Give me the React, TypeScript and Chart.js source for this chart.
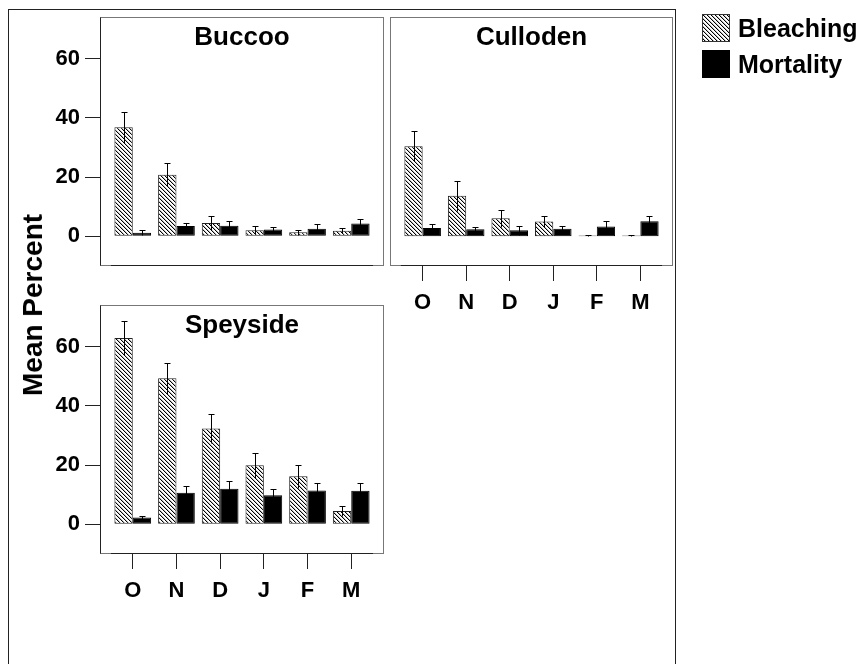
import React, { useEffect, useRef } from 'react';
import { Chart, registerables } from 'chart.js';

Chart.register(...registerables);

// ---------- data ----------
const MONTHS = ['O', 'N', 'D', 'J', 'F', 'M'];
const Y_TICKS = [0, 20, 40, 60];
const SERIES = ['Bleaching', 'Mortality'];
const Y_TITLE = 'Mean Percent';

const BUCCOO_BLEACHING = [36.8, 20.8, 4.5, 2.1, 1.4, 1.9];
const BUCCOO_BLEACHING_ERR = [5.2, 3.8, 2.3, 1.4, 0.9, 0.9];
const BUCCOO_MORTALITY = [1.2, 3.5, 3.6, 2.3, 2.6, 4.3];
const BUCCOO_MORTALITY_ERR = [0.8, 1.1, 1.7, 0.8, 1.6, 1.5];

const CULLODEN_BLEACHING = [30.4, 13.7, 6.1, 5.0, 0.3, 0.3];
const CULLODEN_BLEACHING_ERR = [5.1, 5.1, 2.9, 1.7, 0.2, 0.2];
const CULLODEN_MORTALITY = [2.8, 2.4, 2.1, 2.6, 3.3, 5.1];
const CULLODEN_MORTALITY_ERR = [1.5, 0.9, 1.5, 1.0, 2.0, 1.7];

const SPEYSIDE_BLEACHING = [62.9, 49.3, 32.3, 19.9, 16.2, 4.5];
const SPEYSIDE_BLEACHING_ERR = [5.7, 5.3, 5.0, 4.2, 3.8, 1.7];
const SPEYSIDE_MORTALITY = [2.3, 10.7, 12.0, 9.8, 11.4, 11.3];
const SPEYSIDE_MORTALITY_ERR = [0.6, 2.3, 2.7, 2.1, 2.5, 2.6];

const Y_MIN = -10;
const Y_MAX = 74;

const FONT = '"Liberation Sans", Arial, Helvetica, sans-serif';

// ---------- helpers ----------
function makeHatch(): CanvasPattern | string {
  const n = 4;
  const c = document.createElement('canvas');
  c.width = n;
  c.height = n;
  const g = c.getContext('2d');
  if (!g) return '#888';
  g.fillStyle = '#fff';
  g.fillRect(0, 0, n, n);
  for (let i = 0; i < n; i++) {
    g.fillStyle = '#000';
    g.fillRect(i, i, 1, 1);
    g.fillStyle = 'rgba(0,0,0,0.25)';
    g.fillRect((i + 1) % n, i, 1, 1);
  }
  const p = g.createPattern(c, 'repeat');
  return p || '#888';
}

const toPoints = (vals: number[]) => vals.map((v, i) => ({ x: i, y: v }));

const errorBarPlugin = {
  id: 'errorBars',
  afterDatasetsDraw(chart: any) {
    const ctx = chart.ctx;
    const yScale = chart.scales.y;
    ctx.save();
    ctx.strokeStyle = '#000';
    ctx.lineWidth = 1;
    chart.data.datasets.forEach((ds: any, di: number) => {
      const meta = chart.getDatasetMeta(di);
      meta.data.forEach((el: any, j: number) => {
        const v = ds.data[j].y;
        const e = ds.errors[j];
        const x = Math.round(el.x) + 0.5;
        const yTop = Math.round(yScale.getPixelForValue(v + e)) + 0.5;
        const yBot = Math.round(yScale.getPixelForValue(Math.max(v - e, 0))) + 0.5;
        ctx.beginPath();
        ctx.moveTo(x, yBot);
        ctx.lineTo(x, yTop);
        ctx.moveTo(x - 3, yTop);
        ctx.lineTo(x + 3, yTop);
        ctx.stroke();
      });
    });
    ctx.restore();
  },
};

const panelPlugin = {
  id: 'panelBox',
  beforeDatasetsDraw(chart: any, _args: any, opts: any) {
    const { ctx, chartArea } = chart;
    const l = Math.round(chartArea.left) + 0.5;
    const t = Math.round(chartArea.top) + 0.5;
    const r = Math.round(chartArea.right) - 0.5;
    const b = Math.round(chartArea.bottom) - 0.5;
    ctx.save();
    ctx.lineWidth = 1;
    ctx.strokeStyle = '#777';
    ctx.strokeRect(l, t, r - l, b - t);
    ctx.strokeStyle = '#222';
    if (opts.darkLeft) {
      ctx.beginPath();
      ctx.moveTo(l, t);
      ctx.lineTo(l, b);
      ctx.stroke();
    }
    const xs = chart.scales.x;
    const x0 = xs.getPixelForValue(-0.5);
    const x1 = xs.getPixelForValue(MONTHS.length - 0.5);
    ctx.beginPath();
    ctx.moveTo(x0, b);
    ctx.lineTo(x1, b);
    ctx.stroke();
    ctx.restore();
  },
  afterDraw(chart: any, _args: any, opts: any) {
    const { ctx, chartArea } = chart;
    ctx.save();
    ctx.fillStyle = '#000';
    ctx.font = `bold 26px ${FONT}`;
    ctx.textAlign = 'center';
    ctx.textBaseline = 'alphabetic';
    ctx.fillText(opts.title, (chartArea.left + chartArea.right) / 2, chartArea.top + 28);
    ctx.restore();
  },
};

type PanelProps = {
  title: string;
  bleach: number[];
  bleachErr: number[];
  mort: number[];
  mortErr: number[];
  showY: boolean;
  showX: boolean;
  left: number;
  top: number;
  width: number;
  height: number;
};

function Panel(p: PanelProps) {
  const ref = useRef<HTMLCanvasElement>(null);
  useEffect(() => {
    if (!ref.current) return;
    const hatch = makeHatch();
    const tickFont = { family: FONT, size: 22, weight: 'bold' as const };
    const chart = new Chart(ref.current, {
      type: 'bar',
      data: {
        datasets: [
          {
            label: SERIES[0],
            data: toPoints(p.bleach),
            errors: p.bleachErr,
            backgroundColor: hatch,
            borderColor: '#222',
            borderWidth: 1,
            borderSkipped: false,
            categoryPercentage: 0.84,
            barPercentage: 1,
          } as any,
          {
            label: SERIES[1],
            data: toPoints(p.mort),
            errors: p.mortErr,
            backgroundColor: '#000',
            borderColor: '#000',
            borderWidth: 1,
            borderSkipped: false,
            categoryPercentage: 0.84,
            barPercentage: 1,
          } as any,
        ],
      },
      options: {
        responsive: false,
        maintainAspectRatio: false,
        animation: false,
        events: [],
        layout: {
          autoPadding: false,
          padding: { top: 2, right: 2, left: p.showY ? 0 : 2, bottom: p.showX ? 0 : 2 },
        },
        scales: {
          x: {
            type: 'linear',
            display: p.showX,
            offset: false,
            min: -0.75,
            max: MONTHS.length - 0.25,
            afterBuildTicks: (s: any) => {
              s.ticks = MONTHS.map((_, i) => ({ value: i }));
            },
            afterFit: (s: any) => {
              s.height = p.showX ? 50 : 0;
              s.paddingLeft = 0;
              s.paddingRight = 0;
              s.paddingTop = 0;
              s.paddingBottom = 0;
            },
            grid: { offset: false, drawOnChartArea: false, drawTicks: true, tickLength: 15, color: '#222', lineWidth: 1 },
            border: { display: false },
            ticks: {
              autoSkip: false,
              maxRotation: 0,
              padding: 9,
              color: '#000',
              font: tickFont,
              callback: (v: any) => MONTHS[Math.round(Number(v))] ?? '',
            },
          },
          y: {
            type: 'linear',
            display: p.showY,
            min: Y_MIN,
            max: Y_MAX,
            afterBuildTicks: (s: any) => {
              s.ticks = Y_TICKS.map((v) => ({ value: v }));
            },
            afterFit: (s: any) => {
              s.width = p.showY ? 60 : 0;
              s.paddingLeft = 0;
              s.paddingRight = 0;
              s.paddingTop = 0;
              s.paddingBottom = 0;
            },
            grid: { drawOnChartArea: false, drawTicks: true, tickLength: 15, color: '#222', lineWidth: 1 },
            border: { display: false },
            ticks: { padding: 5, color: '#000', font: tickFont },
          },
        } as any,
        plugins: {
          legend: { display: false },
          tooltip: { enabled: false },
          panelBox: { title: p.title, darkLeft: p.showY },
        } as any,
      },
      plugins: [panelPlugin, errorBarPlugin],
    });
    return () => chart.destroy();
  }, []);
  return (
    <canvas
      ref={ref}
      width={p.width}
      height={p.height}
      style={{ position: 'absolute', left: p.left, top: p.top, width: p.width, height: p.height }}
    />
  );
}

function Swatch({ hatched }: { hatched: boolean }) {
  const ref = useRef<HTMLCanvasElement>(null);
  useEffect(() => {
    const c = ref.current;
    if (!c) return;
    const g = c.getContext('2d');
    if (!g) return;
    g.fillStyle = hatched ? (makeHatch() as any) : '#000';
    g.fillRect(0, 0, 28, 28);
    g.strokeStyle = hatched ? '#333' : '#000';
    g.lineWidth = 1;
    g.strokeRect(0.5, 0.5, 27, 27);
  }, []);
  return <canvas ref={ref} width={28} height={28} style={{ width: 28, height: 28, display: 'block' }} />;
}

export default function App() {
  return (
    <div
      style={{
        position: 'absolute',
        left: 0,
        top: 0,
        width: 862,
        height: 664,
        overflow: 'hidden',
        background: '#fff',
        fontFamily: FONT,
      }}
    >
      <div
        style={{
          position: 'absolute',
          left: 8,
          top: 9,
          width: 666,
          height: 700,
          borderLeft: '1.5px solid #222',
          borderTop: '1.5px solid #222',
          borderRight: '1.5px solid #222',
        }}
      />
      <Panel
        title="Buccoo"
        bleach={BUCCOO_BLEACHING}
        bleachErr={BUCCOO_BLEACHING_ERR}
        mort={BUCCOO_MORTALITY}
        mortErr={BUCCOO_MORTALITY_ERR}
        showY={true}
        showX={false}
        left={40}
        top={15}
        width={346}
        height={253}
      />
      <Panel
        title="Culloden"
        bleach={CULLODEN_BLEACHING}
        bleachErr={CULLODEN_BLEACHING_ERR}
        mort={CULLODEN_MORTALITY}
        mortErr={CULLODEN_MORTALITY_ERR}
        showY={false}
        showX={true}
        left={388}
        top={15}
        width={287}
        height={301}
      />
      <Panel
        title="Speyside"
        bleach={SPEYSIDE_BLEACHING}
        bleachErr={SPEYSIDE_BLEACHING_ERR}
        mort={SPEYSIDE_MORTALITY}
        mortErr={SPEYSIDE_MORTALITY_ERR}
        showY={true}
        showX={true}
        left={40}
        top={303}
        width={346}
        height={301}
      />
      <div
        style={{
          position: 'absolute',
          left: 33,
          top: 305,
          transform: 'translate(-50%, -50%) rotate(-90deg)',
          whiteSpace: 'nowrap',
          font: `bold 28px ${FONT}`,
          color: '#000',
        }}
      >
        {Y_TITLE}
      </div>
      <div style={{ position: 'absolute', left: 702, top: 14, display: 'flex', flexDirection: 'column', gap: 8 }}>
        {SERIES.map((s, i) => (
          <div key={s} style={{ display: 'flex', alignItems: 'center', height: 28 }}>
            <Swatch hatched={i === 0} />
            <span style={{ marginLeft: 8, font: `bold 25px ${FONT}`, color: '#000', lineHeight: '28px' }}>{s}</span>
          </div>
        ))}
      </div>
    </div>
  );
}
